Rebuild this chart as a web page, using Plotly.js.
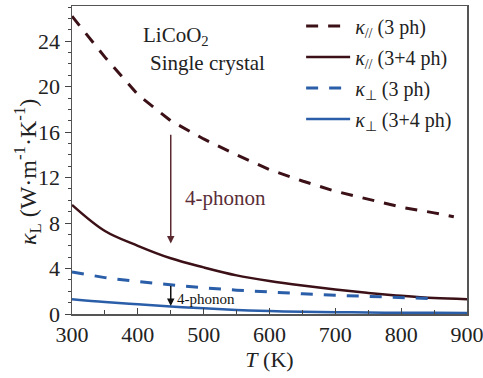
<!DOCTYPE html>
<html>
<head>
<meta charset="utf-8">
<script src="https://cdn.plot.ly/plotly-3.0.1.min.js"></script>
<style>html,body{margin:0;padding:0;background:#fff;}#chart{width:483px;height:378px;}</style>
</head>
<body>
<div id="chart"></div>
<script>
// Temperature (K)
const T = [300, 350, 400, 450, 500, 550, 600, 650, 700, 750, 800, 850, 900];
const T_par3 = [300, 350, 400, 450, 500, 550, 600, 650, 700, 750, 800, 850, 880];
const T_perp3 = [300, 350, 400, 450, 500, 550, 600, 650, 700, 750, 800, 850];
// Lattice thermal conductivity (W m^-1 K^-1)
const kPar3 = [26.2, 22.6, 19.3, 17.0, 15.4, 14.0, 12.7, 11.7, 10.8, 10.1, 9.4, 8.9, 8.55];
const kPar34 = [9.6, 7.3, 6.0, 4.9, 4.1, 3.4, 2.9, 2.5, 2.15, 1.85, 1.6, 1.4, 1.3];
const kPerp3 = [3.7, 3.2, 2.85, 2.55, 2.3, 2.1, 1.92, 1.78, 1.65, 1.55, 1.45, 1.35];
const kPerp34 = [1.3, 1.05, 0.85, 0.66, 0.5, 0.36, 0.26, 0.2, 0.16, 0.13, 0.11, 0.1, 0.09];
const seriesNames = [
  '<i>κ</i><sub>//</sub> (3 ph)',
  '<i>κ</i><sub>//</sub> (3+4 ph)',
  '<i>κ</i><sub>⊥</sub> (3 ph)',
  '<i>κ</i><sub>⊥</sub> (3+4 ph)'
];
const xTicks = [300, 400, 500, 600, 700, 800, 900];
const yTicks = [0, 4, 8, 12, 16, 20, 24];

const red = '#3b1016';
const blue = '#2a5ea8';
const serif = "'Liberation Serif', 'Times New Roman', serif";
const txt = '#222';

const traces = [
  {x: T_par3, y: kPar3, name: seriesNames[0], mode: 'lines', line: {color: red, width: 3, dash: '12px,10px'}, legendgroup: 'a'},
  {x: T, y: kPar34, name: seriesNames[1], mode: 'lines', line: {color: red, width: 2.5, shape: 'spline'}, legendgroup: 'b'},
  {x: T_perp3, y: kPerp3, name: seriesNames[2], mode: 'lines', line: {color: blue, width: 3, dash: '12px,11px'}, legendgroup: 'c'},
  {x: T, y: kPerp34, name: seriesNames[3], mode: 'lines', line: {color: blue, width: 2.5, shape: 'spline'}, legendgroup: 'd'}
];

const layout = {
  width: 483, height: 378,
  margin: {l: 72, r: 16, t: 6, b: 64},
  paper_bgcolor: '#fff', plot_bgcolor: '#fff',
  font: {family: serif, size: 20, color: txt},
  showlegend: true,
  legend: {x: 0.975, xanchor: 'right', y: 0.998, yanchor: 'top', bgcolor: 'rgba(0,0,0,0)',
    font: {family: serif, size: 20, color: txt}, tracegroupgap: 2, traceorder: 'grouped', itemwidth: 44},
  xaxis: {range: [300, 900], tickvals: xTicks, ticks: 'inside', ticklen: 6, tickcolor: '#444',
    minor: {dtick: 50, ticks: 'inside', ticklen: 4, tickcolor: '#444'},
    showline: true, mirror: true, linecolor: '#555', linewidth: 1.5, showgrid: false, zeroline: false,
    ticklabeloverflow: 'allow',
    tickfont: {family: serif, size: 22, color: txt},
    title: {text: '<i>T</i> (K)', font: {family: serif, size: 22, color: txt}, standoff: 4}},
  yaxis: {range: [0, 27.1], tickvals: yTicks, ticks: 'outside', ticklen: 6, tickcolor: '#444',
    minor: {dtick: 1, ticks: 'outside', ticklen: 3, tickcolor: '#444'},
    showline: true, mirror: true, linecolor: '#555', linewidth: 1.5, showgrid: false, zeroline: false,
    tickfont: {family: serif, size: 22, color: txt}},
  annotations: [
    {x: -0.112, y: 0.46, xref: 'paper', yref: 'paper', xanchor: 'center', yanchor: 'middle', textangle: -90, showarrow: false,
      text: '<i>κ</i><sub>L</sub> (W·m<sup>-1</sup>·K<sup>-1</sup>)', font: {family: serif, size: 24, color: txt}},
    {x: 450, y: 6.2, ax: 450, ay: 15.9, xref: 'x', yref: 'y', axref: 'x', ayref: 'y', showarrow: true,
      arrowhead: 2, arrowsize: 1, arrowwidth: 1.5, arrowcolor: '#5a2a30', text: ''},
    {x: 468, y: 10.2, xref: 'x', yref: 'y', text: '4-phonon', showarrow: false, xanchor: 'left',
      font: {family: serif, size: 21, color: '#5a2d38'}},
    {x: 450, y: 0.7, ax: 450, ay: 2.6, xref: 'x', yref: 'y', axref: 'x', ayref: 'y', showarrow: true,
      arrowhead: 2, arrowsize: 1, arrowwidth: 1.5, arrowcolor: '#111', text: ''},
    {x: 457, y: 1.35, xref: 'x', yref: 'y', text: '4-phonon', showarrow: false, xanchor: 'left',
      font: {family: serif, size: 15, color: '#111'}},
    {x: 0.175, y: 0.952, xref: 'paper', yref: 'paper', text: 'LiCoO<sub>2</sub>', showarrow: false, xanchor: 'left',
      font: {family: serif, size: 21, color: txt}},
    {x: 0.193, y: 0.86, xref: 'paper', yref: 'paper', text: 'Single crystal', showarrow: false, xanchor: 'left',
      font: {family: serif, size: 21, color: txt}}
  ]
};

Plotly.newPlot('chart', traces, layout, {displayModeBar: false, staticPlot: true});
</script>
</body>
</html>
